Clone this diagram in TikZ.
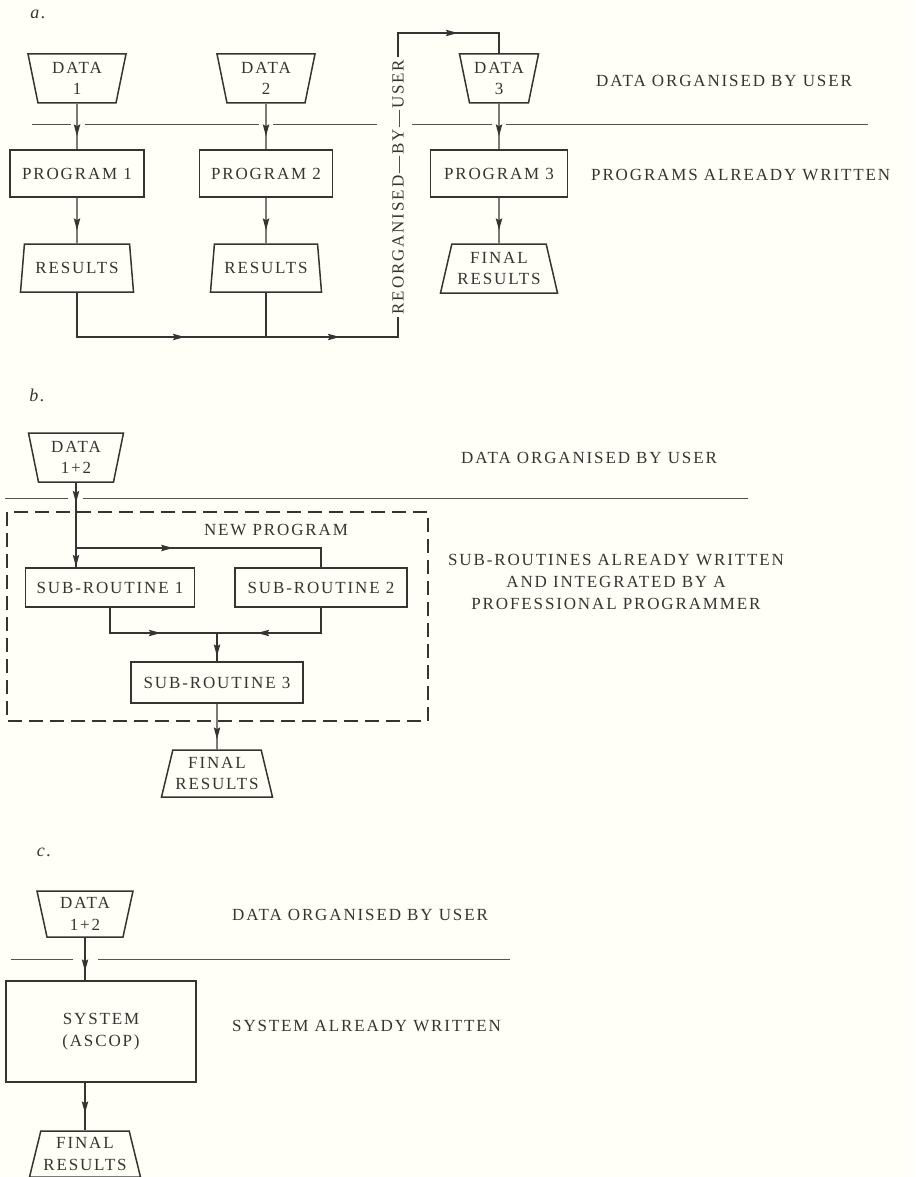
\documentclass[tikz,border=0pt]{standalone}
\usepackage{fontspec}
\setmainfont[LetterSpace=11]{Liberation Serif}
\usepackage{tikz}
\usetikzlibrary{shapes.geometric,decorations.markings}
\definecolor{paper}{RGB}{255,255,247}
\definecolor{ink}{RGB}{52,52,50}
\tikzset{
->-/.style={postaction={decoration={markings, mark=at position #1 with {\fill[ink] (2pt,0pt) -- (-10pt,3.3pt) -- (-8pt,0pt) -- (-10pt,-3.3pt) -- cycle;}},decorate}},
->-/.default = -15pt,
LINK/.style ={draw=ink,line width=1.4pt},
DIVIDER/.style ={draw=ink!85,line width=1pt},
FENCE/.style ={draw=ink,line width=1.4pt,dash pattern=on 14pt off 7pt},
BOX/.style ={draw=ink,line width=1.5pt,rectangle,inner sep=0pt,text=ink,align=center},
DATAIN/.style ={BOX,trapezium,shape border rotate=180,trapezium left angle=73,trapezium right angle=73,trapezium stretches body,minimum width=98,minimum height=49},
RESULT/.style ={BOX,trapezium,trapezium left angle=71,trapezium right angle=71,trapezium stretches body,minimum width=113,minimum height=48},
NOTE/.style ={inner sep=0pt,text=ink,align=center},
PART/.style ={inner sep=0pt,text=ink,font=\fontsize{18}{18}\selectfont\itshape},
}

\begin{document}
\begin{tikzpicture}[x=1pt, y=-1pt, font=\fontsize{17}{21.5}\selectfont] %three ways to the final results
	\path[use as bounding box, fill=paper] (0,0) rectangle (915,1177);

	% a.
	\node[PART] (parta) at (38,14) {a.};
	\node[DATAIN] (data1) at (77,78.5) {DATA\\1};
	\node[DATAIN] (data2) at (266,78.5) {DATA\\2};
	\node[DATAIN, minimum width=79] (data3) at (499,78.5) {DATA\\3};
	\node[BOX, minimum width=134, minimum height=47] (prog1) at (77,173.5) {PROGRAM 1};
	\node[BOX, minimum width=133, minimum height=47] (prog2) at (266,173.5) {PROGRAM 2};
	\node[BOX, minimum width=137, minimum height=47] (prog3) at (499,173.5) {PROGRAM 3};
	\node[RESULT] (res1) at (77,268) {RESULTS};
	\node[RESULT, minimum width=111] (res2) at (266,268) {RESULTS};
	\node[RESULT, minimum width=117, minimum height=49] (final3) at (499,268.5) {FINAL\\RESULTS};
	\foreach \a/\b in {32/71,85/259,273/377,412/492,506/868}
		\path[DIVIDER] (\a,125) -- (\b,125);
	\foreach \d/\p/\r in {data1/prog1/res1,data2/prog2/res2,data3/prog3/final3} {
		\path[LINK,->-] (\d.south) -- (\p.north);
		\path[LINK,->-] (\p.south) -- (\r.north);
	}
	\coordinate (turn) at (398,337);
	\coordinate (top) at (398,33);
	\path[LINK,->-=150pt,->-=305pt,->-=727pt] (res1.south) |- (turn)
		-- node[NOTE, rotate=90, fill=paper, inner sep=3pt, xshift=-2pt] {REORGANISED---BY---USER} (top) -| (data3.north);
	\path[LINK] (res2.south) -- (res2.south |- turn);
	\node[NOTE, anchor=west] (usera) at (596,81) {DATA ORGANISED BY USER};
	\node[NOTE, anchor=west] (written) at (591,175) {PROGRAMS ALREADY WRITTEN};

	% b.
	\node[PART] (partb) at (37,395) {b.};
	\node[DATAIN, minimum width=95] (data12) at (76,457.5) {DATA\\1+2};
	\foreach \a/\b in {5/68,83/748}
		\path[DIVIDER] (\a,498) -- (\b,498);
	\path[FENCE] (7,512) rectangle (428,721);
	\node[NOTE] (newprog) at (276,530) {NEW PROGRAM};
	\node[BOX, minimum width=169, minimum height=39] (sub1) at (110,587.5) {SUB-ROUTINE 1};
	\node[BOX, minimum width=172, minimum height=39] (sub2) at (321,587.5) {SUB-ROUTINE 2};
	\node[BOX, minimum width=172, minimum height=41] (sub3) at (217,682.5) {SUB-ROUTINE 3};
	\node[RESULT, minimum width=111, minimum height=47] (finalb) at (217,773.5) {FINAL\\RESULTS};
	\coordinate (split) at (76,548);
	\coordinate (merge) at (217,633);
	\path[LINK,->-=18pt,->-=82pt] (data12.south) -- (data12.south |- sub1.north);
	\path[LINK,->-=95pt] (split) -| (sub2.north);
	\path[LINK,->-=74pt] (sub1.south) |- (merge);
	\path[LINK,->-=87pt] (sub2.south) |- (merge);
	\path[LINK,->-=-7pt] (merge) -- (sub3.north);
	\path[LINK,->-=-12pt] (sub3.south) -- (finalb.north);
	\node[NOTE, anchor=west] (userb) at (461,458) {DATA ORGANISED BY USER};
	\node[NOTE, font=\fontsize{17}{22}\selectfont] (integrated) at (616,582) {SUB-ROUTINES ALREADY WRITTEN\\AND INTEGRATED BY A\\PROFESSIONAL PROGRAMMER};

	% c.
	\node[PART] (partc) at (44,852) {c.};
	\node[DATAIN, minimum width=96, minimum height=46] (datac) at (85,914) {DATA\\1+2};
	\foreach \a/\b in {11/73,98/510}
		\path[DIVIDER] (\a,959) -- (\b,959);
	\node[BOX, minimum width=190, minimum height=101] (system) at (101,1031.5) {SYSTEM\\(ASCOP)};
	\node[RESULT, minimum width=111, minimum height=46] (finalc) at (85,1154) {FINAL\\RESULTS};
	\path[LINK,->-=-11pt] (datac.south) -- (datac.south |- system.north);
	\path[LINK,->-=-19pt] (system.south -| finalc.north) -- (finalc.north);
	\node[NOTE, anchor=west] (userc) at (232,915) {DATA ORGANISED BY USER};
	\node[NOTE, anchor=west] (systemdone) at (232,1026) {SYSTEM ALREADY WRITTEN};
\end{tikzpicture}
\end{document}
